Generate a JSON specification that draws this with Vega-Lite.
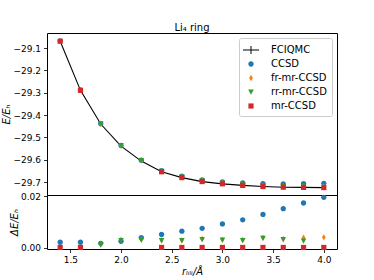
{
  "$schema": "https://vega.github.io/schema/vega-lite/v6.json",
  "background": "white",
  "padding": {"left": 1, "top": 22, "right": 5, "bottom": 0},
  "spacing": 0,
  "bounds": "flush",
  "config": {
    "font": "DejaVu Sans",
    "view": {"stroke": "black", "strokeWidth": 1},
    "concat": {"spacing": 0},
    "axis": {"grid": false, "domain": false, "tickColor": "black", "tickSize": 3.5, "tickWidth": 0.8, "labelColor": "black", "labelFontSize": 9, "labelPadding": 3, "labelOverlap": false, "titleFontSize": 10, "titleFontWeight": "normal", "titleColor": "black"},
    "legend": {"labelFontSize": 10, "labelColor": "black"}
  },
  "datasets": {
    "d": [
      {"r": 1.4, "method": "FCIQMC", "E": -29.069},
      {"r": 1.6, "method": "FCIQMC", "E": -29.289},
      {"r": 1.8, "method": "FCIQMC", "E": -29.440},
      {"r": 2.0, "method": "FCIQMC", "E": -29.539},
      {"r": 2.2, "method": "FCIQMC", "E": -29.606},
      {"r": 2.4, "method": "FCIQMC", "E": -29.654},
      {"r": 2.6, "method": "FCIQMC", "E": -29.680},
      {"r": 2.8, "method": "FCIQMC", "E": -29.698},
      {"r": 3.0, "method": "FCIQMC", "E": -29.708},
      {"r": 3.2, "method": "FCIQMC", "E": -29.715},
      {"r": 3.4, "method": "FCIQMC", "E": -29.720},
      {"r": 3.6, "method": "FCIQMC", "E": -29.723},
      {"r": 3.8, "method": "FCIQMC", "E": -29.724},
      {"r": 4.0, "method": "FCIQMC", "E": -29.725},

      {"r": 1.4, "method": "CCSD", "E": -29.0669, "dE": 0.0021},
      {"r": 1.6, "method": "CCSD", "E": -29.2869, "dE": 0.0021},
      {"r": 1.8, "method": "CCSD", "E": -29.4383, "dE": 0.0017},
      {"r": 2.0, "method": "CCSD", "E": -29.5365, "dE": 0.0025},
      {"r": 2.2, "method": "CCSD", "E": -29.6021, "dE": 0.0039},
      {"r": 2.4, "method": "CCSD", "E": -29.6489, "dE": 0.0051},
      {"r": 2.6, "method": "CCSD", "E": -29.6736, "dE": 0.0064},
      {"r": 2.8, "method": "CCSD", "E": -29.6905, "dE": 0.0075},
      {"r": 3.0, "method": "CCSD", "E": -29.6988, "dE": 0.0092},
      {"r": 3.2, "method": "CCSD", "E": -29.7042, "dE": 0.0108},
      {"r": 3.4, "method": "CCSD", "E": -29.7071, "dE": 0.0129},
      {"r": 3.6, "method": "CCSD", "E": -29.7079, "dE": 0.0151},
      {"r": 3.8, "method": "CCSD", "E": -29.7067, "dE": 0.0173},
      {"r": 4.0, "method": "CCSD", "E": -29.7055, "dE": 0.0195},

      {"r": 1.8, "method": "fr-mr-CCSD", "E": -29.4387, "dE": 0.0013},
      {"r": 2.0, "method": "fr-mr-CCSD", "E": -29.5359, "dE": 0.0031},
      {"r": 2.2, "method": "fr-mr-CCSD", "E": -29.6028, "dE": 0.0032},
      {"r": 2.4, "method": "fr-mr-CCSD", "E": -29.6512, "dE": 0.0028},
      {"r": 2.6, "method": "fr-mr-CCSD", "E": -29.6772, "dE": 0.0028},
      {"r": 2.8, "method": "fr-mr-CCSD", "E": -29.6946, "dE": 0.0034},
      {"r": 3.0, "method": "fr-mr-CCSD", "E": -29.7049, "dE": 0.0031},
      {"r": 3.2, "method": "fr-mr-CCSD", "E": -29.7120, "dE": 0.0030},
      {"r": 3.4, "method": "fr-mr-CCSD", "E": -29.7161, "dE": 0.0039},
      {"r": 3.6, "method": "fr-mr-CCSD", "E": -29.7196, "dE": 0.0034},
      {"r": 3.8, "method": "fr-mr-CCSD", "E": -29.7201, "dE": 0.0039},
      {"r": 4.0, "method": "fr-mr-CCSD", "E": -29.7210, "dE": 0.0040},

      {"r": 1.8, "method": "rr-mr-CCSD", "E": -29.4389, "dE": 0.0011},
      {"r": 2.0, "method": "rr-mr-CCSD", "E": -29.5362, "dE": 0.0028},
      {"r": 2.2, "method": "rr-mr-CCSD", "E": -29.6030, "dE": 0.0030},
      {"r": 2.4, "method": "rr-mr-CCSD", "E": -29.6512, "dE": 0.0028},
      {"r": 2.6, "method": "rr-mr-CCSD", "E": -29.6772, "dE": 0.0028},
      {"r": 2.8, "method": "rr-mr-CCSD", "E": -29.6948, "dE": 0.0032},
      {"r": 3.0, "method": "rr-mr-CCSD", "E": -29.7050, "dE": 0.0030},
      {"r": 3.2, "method": "rr-mr-CCSD", "E": -29.7122, "dE": 0.0028},
      {"r": 3.4, "method": "rr-mr-CCSD", "E": -29.7163, "dE": 0.0037},
      {"r": 3.6, "method": "rr-mr-CCSD", "E": -29.7198, "dE": 0.0032},
      {"r": 3.8, "method": "rr-mr-CCSD", "E": -29.7214, "dE": 0.0026},

      {"r": 1.4, "method": "mr-CCSD", "E": -29.0689, "dE": 0.0001},
      {"r": 1.6, "method": "mr-CCSD", "E": -29.2889, "dE": 0.0001},
      {"r": 2.4, "method": "mr-CCSD", "E": -29.6539, "dE": 0.0001},
      {"r": 2.6, "method": "mr-CCSD", "E": -29.6799, "dE": 0.0001},
      {"r": 2.8, "method": "mr-CCSD", "E": -29.6979, "dE": 0.0001},
      {"r": 3.0, "method": "mr-CCSD", "E": -29.7079, "dE": 0.0001},
      {"r": 3.2, "method": "mr-CCSD", "E": -29.7149, "dE": 0.0001},
      {"r": 3.4, "method": "mr-CCSD", "E": -29.7199, "dE": 0.0001},
      {"r": 3.6, "method": "mr-CCSD", "E": -29.7229, "dE": 0.0001},
      {"r": 3.8, "method": "mr-CCSD", "E": -29.7239, "dE": 0.0001},
      {"r": 4.0, "method": "mr-CCSD", "E": -29.7249, "dE": 0.0001}
    ]
  },
  "resolve": {"scale": {"color": "independent", "shape": "independent", "x": "independent", "y": "independent"}, "legend": {"color": "independent", "shape": "independent"}},
  "vconcat": [
    {
      "width": 290,
      "height": 162,
      "title": {"text": "Li₄ ring", "fontSize": 10, "fontWeight": "normal", "offset": 0, "color": "black"},
      "data": {"name": "d"},
      "layer": [
        {
          "transform": [{"filter": "datum.method === 'FCIQMC'"}],
          "mark": {"type": "line", "color": "black", "strokeWidth": 1.1},
          "encoding": {
            "x": {"field": "r", "type": "quantitative", "scale": {"domain": [1.27, 4.13], "nice": false, "zero": false}, "axis": null},
            "y": {"field": "E", "type": "quantitative", "scale": {"domain": [-29.758, -29.032], "nice": false, "zero": false},
                  "axis": {"values": [-29.7, -29.6, -29.5, -29.4, -29.3, -29.2, -29.1], "tickCount": 20, "labelOverlap": false, "labelExpr": "replace(format(datum.value, '.1f'), '-', '−')", "title": "E/Eₕ", "titleFontStyle": "italic", "titlePadding": 1}}
          }
        },
        {
          "transform": [{"filter": "datum.method !== 'FCIQMC'"}],
          "mark": {"type": "point", "filled": true, "opacity": 1, "size": 196, "strokeWidth": 0},
          "encoding": {
            "x": {"field": "r", "type": "quantitative"},
            "y": {"field": "E", "type": "quantitative"},
            "color": {"field": "method", "type": "nominal",
              "scale": {"domain": ["FCIQMC", "CCSD", "fr-mr-CCSD", "rr-mr-CCSD", "mr-CCSD"], "range": ["#000000", "#1f77b4", "#ff7f0e", "#2ca02c", "#d62728"]},
              "legend": {"title": null, "orient": "top-right", "offset": 5, "padding": 5, "strokeColor": "#cccccc", "fillColor": "rgba(255,255,255,0.8)", "cornerRadius": 2, "symbolSize": 196, "symbolStrokeWidth": 0, "rowPadding": 2, "labelOffset": 13, "labelFontSize": 10}},
            "shape": {"field": "method", "type": "nominal",
              "scale": {"domain": ["FCIQMC", "CCSD", "fr-mr-CCSD", "rr-mr-CCSD", "mr-CCSD"],
                "range": [
                  "M-1.15,-0.07L1.15,-0.07L1.15,0.07L-1.15,0.07Z M-0.07,-0.57L0.07,-0.57L0.07,0.57L-0.07,0.57Z",
                  "M0.38,0A0.38,0.38,0,1,1,-0.38,0A0.38,0.38,0,1,1,0.38,0Z",
                  "M0,-0.45L0.27,0L0,0.45L-0.27,0Z",
                  "M-0.4,-0.36L0.4,-0.36L0,0.4Z",
                  "M-0.37,-0.37L0.37,-0.37L0.37,0.37L-0.37,0.37Z"
                ]},
              "legend": {"title": null, "orient": "top-right", "offset": 5, "padding": 5, "strokeColor": "#cccccc", "fillColor": "rgba(255,255,255,0.8)", "cornerRadius": 2, "symbolSize": 196, "symbolStrokeWidth": 0, "rowPadding": 2, "labelOffset": 13, "labelFontSize": 10}}
          }
        }
      ]
    },
    {
      "width": 290,
      "height": 54,
      "data": {"name": "d"},
      "transform": [{"filter": "datum.method !== 'FCIQMC'"}],
      "mark": {"type": "point", "filled": true, "opacity": 1, "size": 196, "strokeWidth": 0},
      "encoding": {
        "x": {"field": "r", "type": "quantitative", "scale": {"domain": [1.27, 4.13], "nice": false, "zero": false},
              "axis": {"values": [1.5, 2.0, 2.5, 3.0, 3.5, 4.0], "tickCount": 20, "format": ".1f", "title": "rₗᵢₗᵢ/Å", "titleFontStyle": "italic", "titlePadding": 2}},
        "y": {"field": "dE", "type": "quantitative", "scale": {"domain": [-0.0005, 0.0204], "nice": false, "zero": false},
              "axis": {"values": [0, 0.02], "format": ".2f", "title": "ΔE/Eₕ", "titleFontStyle": "italic", "titlePadding": 1}},
        "color": {"field": "method", "type": "nominal",
          "scale": {"domain": ["FCIQMC", "CCSD", "fr-mr-CCSD", "rr-mr-CCSD", "mr-CCSD"], "range": ["#000000", "#1f77b4", "#ff7f0e", "#2ca02c", "#d62728"]}, "legend": null},
        "shape": {"field": "method", "type": "nominal",
          "scale": {"domain": ["FCIQMC", "CCSD", "fr-mr-CCSD", "rr-mr-CCSD", "mr-CCSD"],
            "range": [
              "M-1.15,-0.07L1.15,-0.07L1.15,0.07L-1.15,0.07Z M-0.07,-0.57L0.07,-0.57L0.07,0.57L-0.07,0.57Z",
              "M0.38,0A0.38,0.38,0,1,1,-0.38,0A0.38,0.38,0,1,1,0.38,0Z",
              "M0,-0.45L0.27,0L0,0.45L-0.27,0Z",
              "M-0.4,-0.36L0.4,-0.36L0,0.4Z",
              "M-0.37,-0.37L0.37,-0.37L0.37,0.37L-0.37,0.37Z"
            ]}, "legend": null}
      }
    }
  ]
}
